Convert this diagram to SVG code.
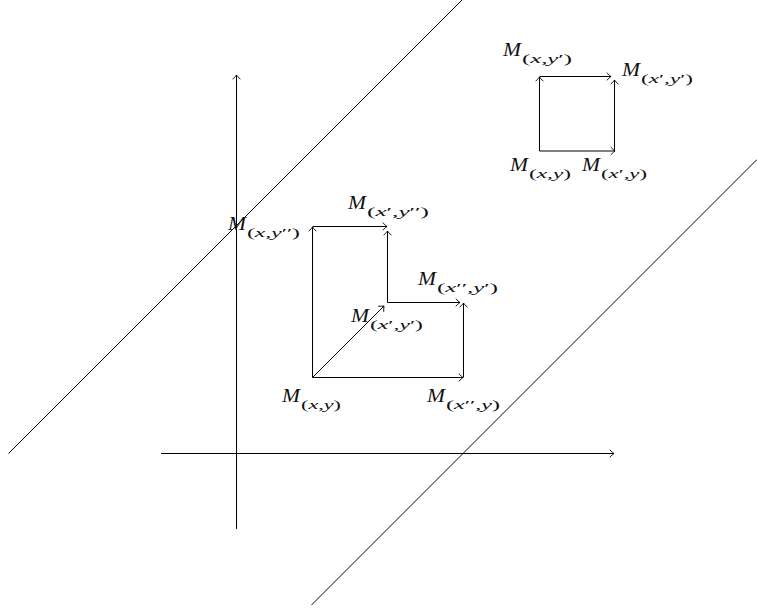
<svg xmlns="http://www.w3.org/2000/svg" width="757" height="610" viewBox="0 0 757 610">
<style>
.ln{stroke:#000;stroke-width:1;fill:none}
.dg{stroke:#000;stroke-width:1;fill:none}
.ar{marker-end:url(#ah)}
.m{font-family:"Liberation Serif","DejaVu Serif",serif;font-style:italic;font-size:18px;fill:#111}
.s{font-family:"Liberation Serif","DejaVu Serif",serif;font-size:13px;fill:#111}
.i{font-style:italic}
</style>
<defs>
<marker id="ah" markerUnits="userSpaceOnUse" markerWidth="10" markerHeight="10" viewBox="-5 -5 10 10" refX="0" refY="0" orient="auto" overflow="visible">
<path d="M-4,-3.6 Q-1.5,-1 0,0 Q-1.5,1 -4,3.6" fill="none" stroke="#000" stroke-width="0.9" stroke-linecap="round"/>
</marker>
</defs>
<rect width="757" height="610" fill="#fff"/>
<g id="connectors">
<line class="dg" x1="8.5" y1="453.5" x2="462" y2="0"/>
<line class="dg" x1="311.5" y1="605" x2="757" y2="159.5"/>
<line class="ln ar" x1="236.5" y1="529" x2="236.5" y2="75"/>
<line class="ln ar" x1="161" y1="453.5" x2="614" y2="453.5"/>
<line class="ln ar" x1="539.5" y1="151" x2="539.5" y2="77"/>
<line class="ln ar" x1="539.5" y1="76.5" x2="611" y2="76.5"/>
<line class="ln ar" x1="614.5" y1="151" x2="614.5" y2="80"/>
<line class="ln ar" x1="539.5" y1="151" x2="615" y2="151"/>
<line class="ln ar" x1="312.5" y1="377.5" x2="463" y2="377.5"/>
<line class="ln ar" x1="312.5" y1="377.5" x2="312.5" y2="227"/>
<line class="ln ar" x1="312.5" y1="226.5" x2="387" y2="226.5"/>
<line class="ln ar" x1="387.5" y1="302.5" x2="387.5" y2="231"/>
<line class="ln ar" x1="387.5" y1="302.5" x2="460" y2="302.5"/>
<line class="ln ar" x1="463.5" y1="377.5" x2="463.5" y2="303"/>
<line class="ln ar" x1="312.5" y1="377.5" x2="384" y2="306"/>
</g>
<g id="sq-xyp"><text class="m" x="503" y="56" textLength="18" lengthAdjust="spacingAndGlyphs">M</text><text class="s" x="522" y="62.5" textLength="50" lengthAdjust="spacingAndGlyphs">(<tspan class="i">x</tspan>,<tspan class="i">y</tspan>′)</text></g>
<g id="sq-xpyp"><text class="m" x="622" y="76" textLength="18" lengthAdjust="spacingAndGlyphs">M</text><text class="s" x="641" y="82.5" textLength="52" lengthAdjust="spacingAndGlyphs">(<tspan class="i">x</tspan>′,<tspan class="i">y</tspan>′)</text></g>
<g id="sq-xy"><text class="m" x="510" y="171" textLength="18" lengthAdjust="spacingAndGlyphs">M</text><text class="s" x="529" y="177.5" textLength="42" lengthAdjust="spacingAndGlyphs">(<tspan class="i">x</tspan>,<tspan class="i">y</tspan>)</text></g>
<g id="sq-xpy"><text class="m" x="582" y="171" textLength="18" lengthAdjust="spacingAndGlyphs">M</text><text class="s" x="601" y="177.5" textLength="46" lengthAdjust="spacingAndGlyphs">(<tspan class="i">x</tspan>′,<tspan class="i">y</tspan>)</text></g>
<g id="l-xpypp"><text class="m" x="348" y="209" textLength="18" lengthAdjust="spacingAndGlyphs">M</text><text class="s" x="367" y="215.5" textLength="62" lengthAdjust="spacingAndGlyphs">(<tspan class="i">x</tspan>′,<tspan class="i">y</tspan>′′)</text></g>
<g id="l-xypp"><text class="m" x="228" y="230" textLength="18" lengthAdjust="spacingAndGlyphs">M</text><text class="s" x="247" y="236.5" textLength="53" lengthAdjust="spacingAndGlyphs">(<tspan class="i">x</tspan>,<tspan class="i">y</tspan>′′)</text></g>
<g id="l-xppyp"><text class="m" x="418" y="285" textLength="18" lengthAdjust="spacingAndGlyphs">M</text><text class="s" x="437" y="291.5" textLength="61" lengthAdjust="spacingAndGlyphs">(<tspan class="i">x</tspan>′′,<tspan class="i">y</tspan>′)</text></g>
<g id="l-xpyp"><text class="m" x="351" y="322" textLength="18" lengthAdjust="spacingAndGlyphs">M</text><text class="s" x="370" y="328.5" textLength="53" lengthAdjust="spacingAndGlyphs">(<tspan class="i">x</tspan>′,<tspan class="i">y</tspan>′)</text></g>
<g id="l-xy"><text class="m" x="282" y="402" textLength="18" lengthAdjust="spacingAndGlyphs">M</text><text class="s" x="301" y="408.5" textLength="40" lengthAdjust="spacingAndGlyphs">(<tspan class="i">x</tspan>,<tspan class="i">y</tspan>)</text></g>
<g id="l-xppy"><text class="m" x="427" y="402" textLength="18" lengthAdjust="spacingAndGlyphs">M</text><text class="s" x="446" y="408.5" textLength="54" lengthAdjust="spacingAndGlyphs">(<tspan class="i">x</tspan>′′,<tspan class="i">y</tspan>)</text></g>
</svg>
